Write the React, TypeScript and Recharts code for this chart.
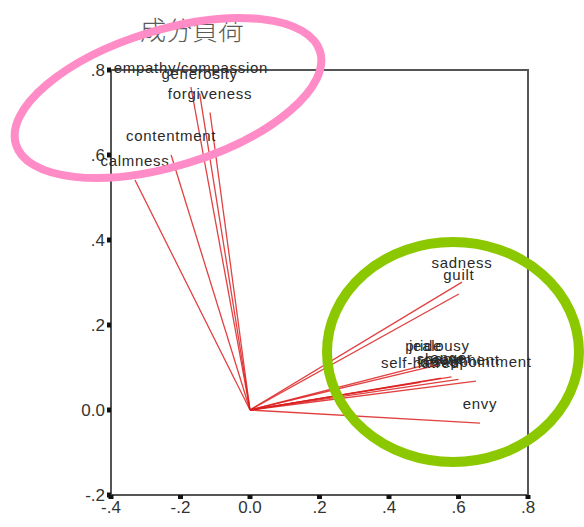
import { ScatterChart, Scatter, XAxis, YAxis, ReferenceLine, ReferenceArea } from "recharts";

// component loadings (component 1 on x, component 2 on y)
const variables = [
  "calmness",
  "contentment",
  "empathy/compassion",
  "generosity",
  "forgiveness",
  "sadness",
  "guilt",
  "jealousy",
  "pride",
  "self-hatred",
  "shame",
  "anger",
  "resentment",
  "disappointment",
  "envy",
];
const comp1 = [-0.331, -0.227, -0.17, -0.145, -0.115, 0.61, 0.601, 0.545, 0.5, 0.49, 0.55, 0.58, 0.6, 0.65, 0.662];
const comp2 = [0.541, 0.6, 0.76, 0.745, 0.7, 0.301, 0.273, 0.107, 0.105, 0.065, 0.075, 0.078, 0.072, 0.068, -0.031];

const xTicks = [-0.4, -0.2, 0, 0.2, 0.4, 0.6, 0.8];
const xTickLabels = ["-.4", "-.2", "0.0", ".2", ".4", ".6", ".8"];
const yTicks = [-0.2, 0, 0.2, 0.4, 0.6, 0.8];
const yTickLabels = ["-.2", "0.0", ".2", ".4", ".6", ".8"];

const points = variables.map((name, i) => ({ name, x: comp1[i], y: comp2[i] }));

const tickStyle = { fontFamily: "'Liberation Sans Narrow', 'Liberation Sans', sans-serif", fontSize: 17, fill: "#333" };

function PointLabel(props: any) {
  const { cx, cy, payload } = props;
  return (
    <text
      x={cx}
      y={cy - 14}
      textAnchor="middle"
      fontFamily="'Liberation Sans', Arial, sans-serif"
      fontSize={15}
      letterSpacing={0.7}
      fill="#2a2a2a"
    >
      {payload.name}
    </text>
  );
}

export default function App() {
  return (
    <div style={{ position: "absolute", left: 0, top: 0, width: 584, height: 527, background: "#fff" }}>
      <div
        style={{
          position: "absolute",
          left: 140,
          top: 11,
          fontFamily: "'Noto Sans CJK JP', sans-serif",
          fontSize: 26,
          fontWeight: 300,
          color: "#5a5a5a",
          lineHeight: "36px",
        }}
      >
        成分負荷
      </div>
      <ScatterChart width={584} height={527} margin={{ top: 70, right: 56, bottom: 0, left: 0 }}>
        <XAxis
          type="number"
          dataKey="x"
          domain={[-0.4, 0.8]}
          ticks={xTicks}
          tickFormatter={(_v: number, i: number) => xTickLabels[i]}
          height={32}
          axisLine={false}
          tickSize={4}
          tickLine={{ stroke: "#111", strokeWidth: 5 }}
          tick={tickStyle}
        />
        <YAxis
          type="number"
          dataKey="y"
          domain={[-0.2, 0.8]}
          ticks={yTicks}
          tickFormatter={(_v: number, i: number) => yTickLabels[i]}
          width={111}
          axisLine={false}
          tickSize={4}
          tickLine={{ stroke: "#111", strokeWidth: 5 }}
          tick={tickStyle}
        />
        <ReferenceArea x1={-0.4} x2={0.8} y1={-0.2} y2={0.8} fill="none" stroke="#555" strokeWidth={2} />
        {points.map((p) => (
          <ReferenceLine
            key={p.name}
            segment={[
              { x: 0, y: 0 },
              { x: p.x, y: p.y },
            ]}
            stroke="#dc2020"
            strokeOpacity={0.85}
            strokeWidth={1.3}
          />
        ))}
        <Scatter data={points} shape={PointLabel} isAnimationActive={false} />
      </ScatterChart>
      <svg
        width={584}
        height={527}
        style={{ position: "absolute", left: 0, top: 0, pointerEvents: "none" }}
      >
        <ellipse
          cx={168}
          cy={98}
          rx={159}
          ry={68}
          transform="rotate(-17 168 98)"
          fill="none"
          stroke="#ff8cc6"
          strokeWidth={8}
        />
        <ellipse cx={453} cy={352} rx={126} ry={110} fill="none" stroke="#8cc800" strokeWidth={10} />
      </svg>
    </div>
  );
}
